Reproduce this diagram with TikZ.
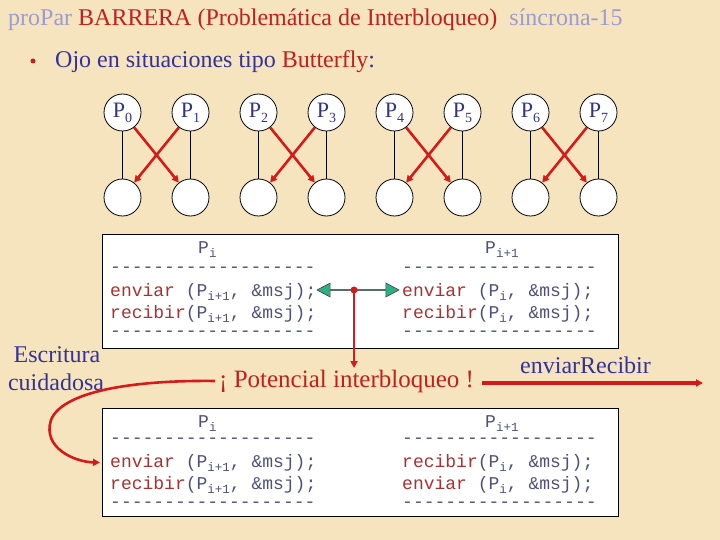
\documentclass[tikz,border=0pt]{standalone}
\usepackage{fontspec}
\setmainfont{Liberation Serif}
\setmonofont{Liberation Mono}
\usetikzlibrary{arrows.meta,shapes.arrows}
\definecolor{bg}{HTML}{F6E4BE}
\definecolor{ttl}{HTML}{9C9CCF}
\definecolor{dred}{HTML}{C0201E}
\definecolor{dblue}{HTML}{333399}
\definecolor{lblue}{HTML}{333380}
\definecolor{codered}{HTML}{A83232}
\definecolor{codeblue}{HTML}{50507A}
\definecolor{arred}{HTML}{D41A1A}
\definecolor{gfill}{HTML}{2FAF82}
\newcommand{\csub}[1]{\raisebox{-4pt}{\fontsize{12.5}{12.5}\selectfont #1}}
\newcommand{\psub}[1]{\raisebox{-5pt}{\fontsize{14}{14}\selectfont #1}}
\newcommand{\kw}[1]{{\color{codered}#1}}
\begin{document}
\begin{tikzpicture}[x=1pt,y=-1pt,
  big/.style={inner sep=0, font=\fontsize{24}{24}\selectfont},
  pc/.style={circle, draw=black, fill=white, line width=0.8pt, minimum size=37pt, inner sep=0,
             text=lblue, font=\fontsize{22}{22}\selectfont},
  redarr/.style={draw=arred, line width=2.6pt, -{Triangle[length=7pt,width=7pt]}},
  code/.style={anchor=base west, inner sep=0, text=codeblue, font=\fontsize{18}{18}\ttfamily},
  dashline/.style={code, text height=7pt, text depth=0pt},
  codebox/.style={draw=black, fill=white, line width=0.8pt, anchor=north west, minimum width=516pt, inner sep=0}
]
\fill[bg] (0,0) rectangle (720,540);
\useasboundingbox (0,0) rectangle (720,540);

% title
\node[big, anchor=base west] (title) at (8,26)
  {\color{ttl}proPar \color{dred}BARRERA (Problemática de Interbloqueo)\hspace{12pt}\color{ttl}síncrona-15};
\node[circle, fill=dred, inner sep=0, minimum size=5pt] (bul) at (33,61) {};
\node[big, anchor=base west, text=dblue] (ojo) at (55,68)
  {Ojo en situaciones tipo {\color{dred}Butterfly}:};

% butterfly circles
\foreach \i in {0,...,7} {
  \node[pc] (T\i) at ({122.5+68*\i},112.5) {P\psub{\i}};
  \node[pc] (B\i) at ({122.5+68*\i},197.5) {};
  \draw[line width=0.8pt] (T\i) -- (B\i);
}
\foreach \a/\b in {0/1,2/3,4/5,6/7} {
  \draw[redarr] (T\a.-52) -- (B\b.128);
  \draw[redarr] (T\b.-128) -- (B\a.52);
}

% upper code box
\node[codebox, minimum height=114pt] (box1) at (102,234) {};
\node[code] (h1) at (198,254) {P\csub{i}};
\node[dashline] (d1) at (110,272) {-------------------};
\node[code] (e1) at (110,296) {\kw{enviar} (P\csub{i+1}, \&msj);};
\node[code] (r1) at (110,318) {\kw{recibir}(P\csub{i+1}, \&msj);};
\node[dashline] (f1) at (110,336) {-------------------};
\node[code] (h2) at (485,254) {P\csub{i+1}};
\node[dashline] (d2) at (402,272) {------------------};
\node[code] (e2) at (402,296) {\kw{enviar} (P\csub{i}, \&msj);};
\node[code] (r2) at (402,318) {\kw{recibir}(P\csub{i}, \&msj);};
\node[dashline] (f2) at (402,336) {------------------};

% lower code box
\node[codebox, minimum height=108pt] (box2) at (102,408) {};
\node[code] (h3) at (198,427) {P\csub{i}};
\node[dashline] (d3) at (110,443) {-------------------};
\node[code] (e3) at (110,467) {\kw{enviar} (P\csub{i+1}, \&msj);};
\node[code] (r3) at (110,489) {\kw{recibir}(P\csub{i+1}, \&msj);};
\node[dashline] (f3) at (110,507) {-------------------};
\node[code] (h4) at (485,427) {P\csub{i+1}};
\node[dashline] (d4) at (402,443) {------------------};
\node[code] (e4) at (402,467) {\kw{recibir}(P\csub{i}, \&msj);};
\node[code] (r4) at (402,489) {\kw{enviar} (P\csub{i}, \&msj);};
\node[dashline] (f4) at (402,507) {------------------};

% green double arrow and red dot
\node[double arrow, draw=black!75, line width=0.6pt, fill=gfill, inner sep=0,
      minimum height=82pt, minimum width=14pt, double arrow head extend=3.5pt,
      double arrow tip angle=56] (garr) at (358,290) {};
\node[circle, fill=arred, inner sep=0, minimum size=7pt] (dot) at (354,290) {};
\coordinate (dotend) at (354,368);
\draw[redarr] (dot.center) -- (dotend);

% texts
\node[big, anchor=base west, text=dred, font=\fontsize{25}{25}\selectfont] (pot) at (219,387) {¡ Potencial interbloqueo !};
\node[big, anchor=base, text=dblue] (esc1) at (57,362) {Escritura};
\node[big, anchor=base, text=dblue] (esc2) at (56,390) {cuidadosa};
\node[big, anchor=base west, text=dblue] (er) at (520,373) {enviarRecibir};
\coordinate (er1) at (482,383);
\coordinate (er2) at (703,383);
\draw[redarr, line width=3.5pt] (er1) -- (er2);

% curved arrow
\draw[redarr] ([xshift=-4pt]pot.west) .. controls (130,380) and (62,392) .. (51,420)
   .. controls (42,448) and (75,462) .. ([xshift=-10pt]e3.west);
\end{tikzpicture}
\end{document}
